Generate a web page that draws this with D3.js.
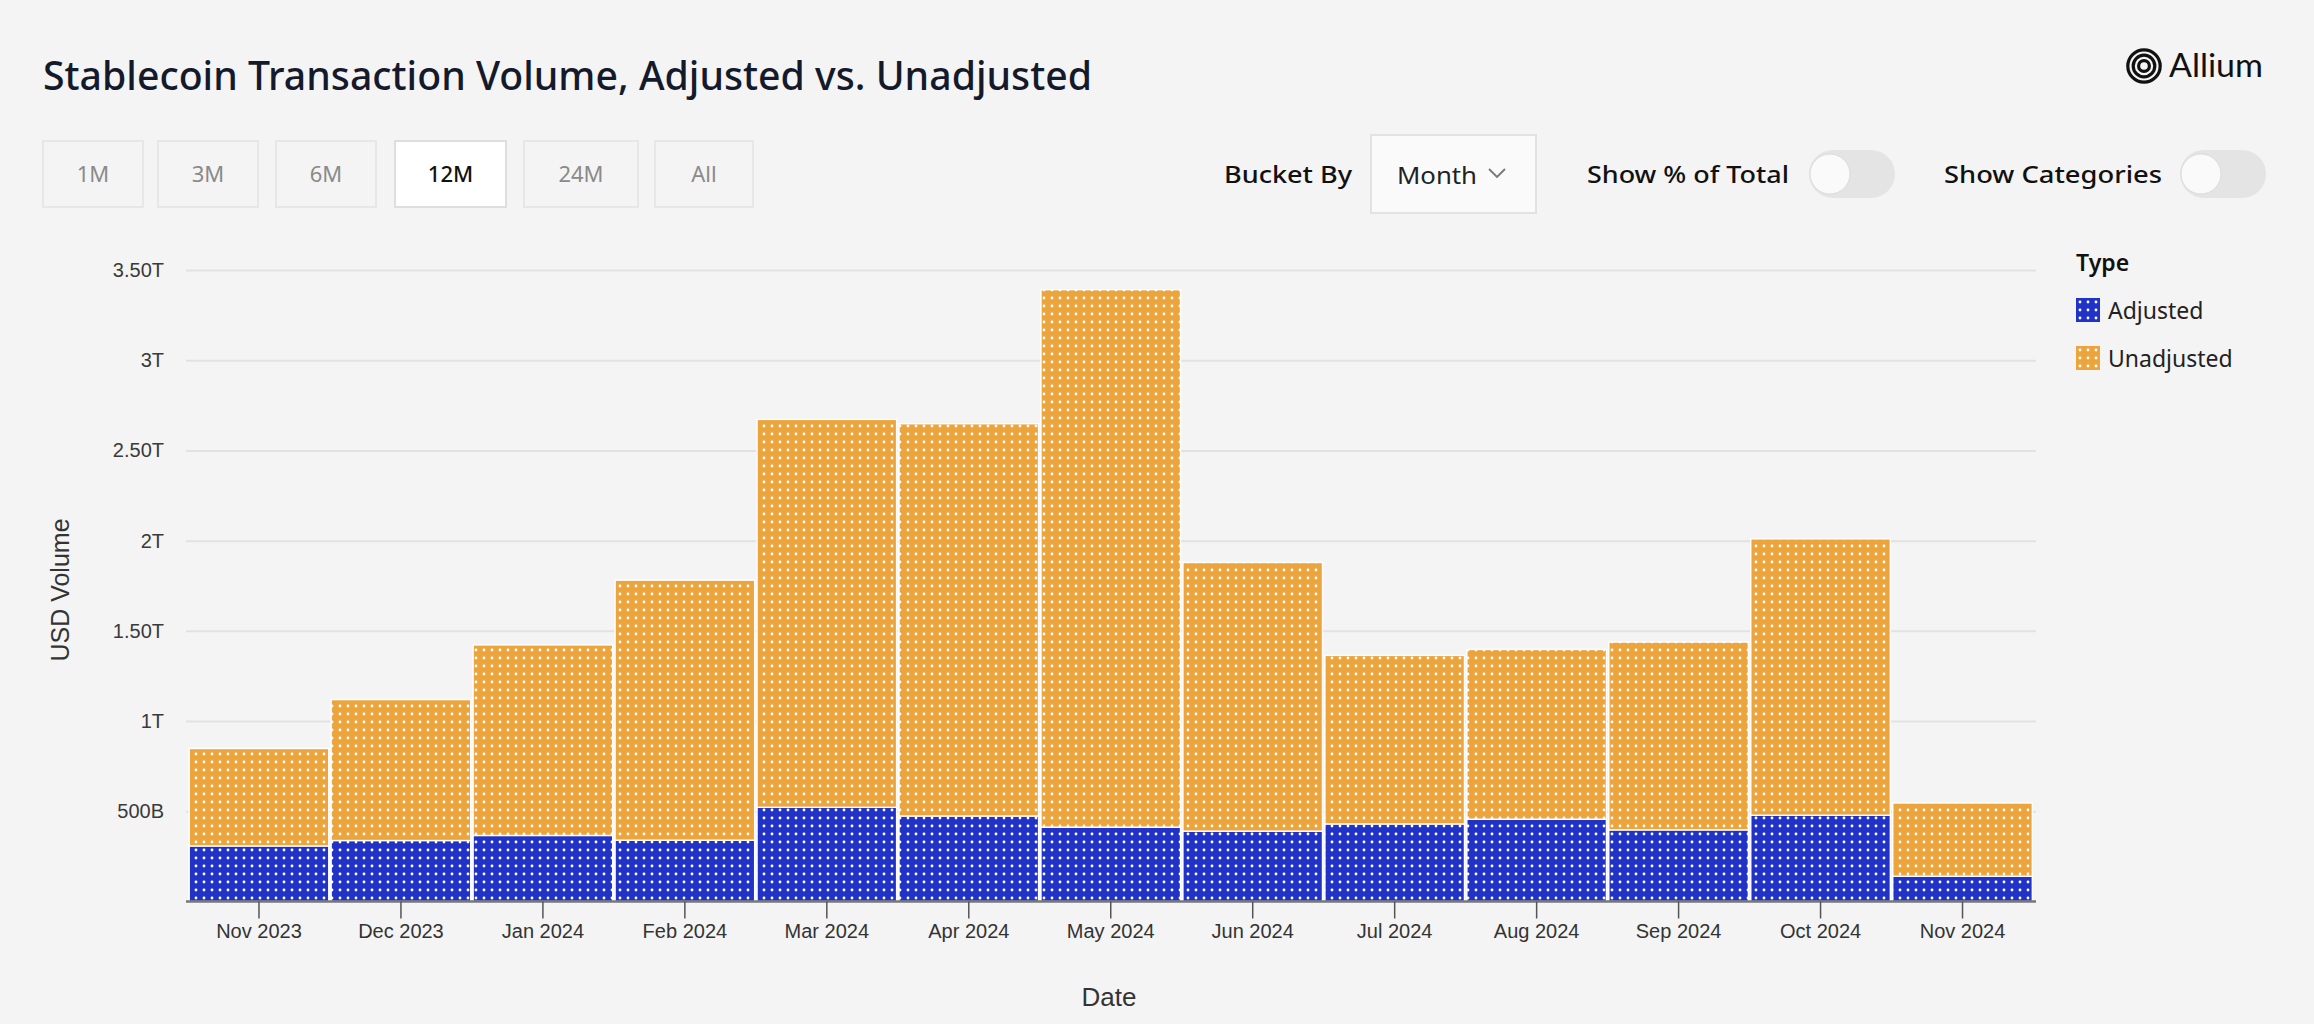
<!DOCTYPE html>
<html><head><meta charset="utf-8">
<script src="https://cdn.jsdelivr.net/npm/d3@7"></script>
<style>html,body{margin:0;padding:0;background:#f4f4f4;} svg{display:block}</style>
</head><body>
<svg id="c" width="2314" height="1024"></svg>
<script>
// ---------- DATA ----------
const months = ["Nov 2023","Dec 2023","Jan 2024","Feb 2024","Mar 2024","Apr 2024","May 2024","Jun 2024","Jul 2024","Aug 2024","Sep 2024","Oct 2024","Nov 2024"];
// USD billions
const adjusted   = [308, 338, 366, 340, 522, 474, 412, 390, 430, 456, 397, 478, 140];
const unadjusted = [540, 781, 1056, 1441, 2150, 2174, 2979, 1489, 934, 941, 1041, 1532, 406];
const seriesNames = ["Adjusted", "Unadjusted"];
const seriesColors = ["#2132c6", "#eca43c"];
const yTickValues = [500, 1000, 1500, 2000, 2500, 3000, 3500];
const yTickLabels = ["500B", "1T", "1.50T", "2T", "2.50T", "3T", "3.50T"];
const rangeButtons = ["1M", "3M", "6M", "12M", "24M", "All"];
const selectedRange = "12M";
const titleText = "Stablecoin Transaction Volume, Adjusted vs. Unadjusted";

// ---------- HELPERS ----------
const svg = d3.select("#c");
const UI = "'Noto Sans', 'Open Sans', sans-serif";
const AX = "'Liberation Sans', Arial, sans-serif";
function fit(sel, w) {
  const n = sel.node();
  const cur = n.getComputedTextLength();
  if (Math.abs(cur - w) > 1) sel.attr("textLength", w).attr("lengthAdjust", "spacingAndGlyphs");
  return sel;
}

svg.append("rect").attr("width", 2314).attr("height", 1024).attr("fill", "#f4f4f4");

// patterns
const defs = svg.append("defs");
function makePattern(id, color, ox, oy) {
  const p = defs.append("pattern").attr("id", id).attr("patternUnits", "userSpaceOnUse")
    .attr("x", ox).attr("y", oy).attr("width", 8).attr("height", 8);
  p.append("rect").attr("width", 8).attr("height", 8).attr("fill", color);
  p.append("circle").attr("cx", 4).attr("cy", 4).attr("r", 1.4).attr("fill", "#ffffff");
}
seriesNames.forEach((s, i) => {
  makePattern("pat" + i, seriesColors[i], 0, -2);
  makePattern("leg" + i, seriesColors[i], 2076, 298 + i * 48);
});

// ---------- HEADER ----------
fit(svg.append("text").attr("x", 43).attr("y", 90).attr("font-family", UI).attr("font-weight", 500)
  .attr("font-size", 39).attr("fill", "#141a2c").text(titleText), 1049);

// Allium logo
const logo = svg.append("g");
[16.2, 10.8, 5.4].forEach(r => logo.append("circle").attr("cx", 2144).attr("cy", 66).attr("r", r)
  .attr("fill", "none").attr("stroke", "#111").attr("stroke-width", 3.2));
fit(logo.append("text").attr("x", 2169).attr("y", 77).attr("font-family", "Lato, 'Noto Sans', sans-serif")
  .attr("font-weight", 400).attr("font-size", 32).attr("fill", "#111").text("Allium"), 94);

// range buttons
const btnX = [43, 158, 276, 395, 524, 655], btnW = [100, 100, 100, 111, 114, 98];
rangeButtons.forEach((b, i) => {
  const sel = b === selectedRange;
  svg.append("rect").attr("x", btnX[i]).attr("y", 141).attr("width", btnW[i]).attr("height", 66)
    .attr("fill", sel ? "#ffffff" : "#f4f4f4").attr("stroke", sel ? "#dedede" : "#e7e7e7").attr("stroke-width", 2);
  svg.append("text").attr("x", btnX[i] + btnW[i] / 2).attr("y", 182).attr("text-anchor", "middle")
    .attr("font-family", UI).attr("font-size", 22).attr("font-weight", sel ? 500 : 400)
    .attr("fill", sel ? "#111" : "#8a8a8a").text(b);
});

// bucket by
fit(svg.append("text").attr("x", 1224).attr("y", 183).attr("font-family", UI).attr("font-weight", 500)
  .attr("font-size", 24).attr("fill", "#111").text("Bucket By"), 128);
svg.append("rect").attr("x", 1371).attr("y", 135).attr("width", 165).attr("height", 78)
  .attr("fill", "#fafafa").attr("stroke", "#e2e2e2").attr("stroke-width", 2);
fit(svg.append("text").attr("x", 1397).attr("y", 184).attr("font-family", UI)
  .attr("font-size", 24).attr("fill", "#222").text("Month"), 80);
svg.append("path").attr("d", "M1489,169 L1497,177 L1505,169").attr("fill", "none")
  .attr("stroke", "#777").attr("stroke-width", 1.8);

// toggles
[["Show % of Total", 1587, 202, 1809], ["Show Categories", 1944, 218, 2180]].forEach(t => {
  fit(svg.append("text").attr("x", t[1]).attr("y", 183).attr("font-family", UI).attr("font-weight", 500)
    .attr("font-size", 24).attr("fill", "#111").text(t[0]), t[2]);
  svg.append("rect").attr("x", t[3]).attr("y", 150).attr("width", 86).attr("height", 48).attr("rx", 24)
    .attr("fill", "#e4e4e4");
  svg.append("circle").attr("cx", t[3] + 21).attr("cy", 174).attr("r", 20).attr("fill", "#fafafa")
    .attr("stroke", "#dcdcdc").attr("stroke-width", 1);
});

// ---------- CHART ----------
const x = d3.scaleBand().domain(months).range([188, 2033.5]).padding(0);
const y = d3.scaleLinear().domain([0, 3500]).range([901.5, 270]);

// grid + y axis
const yAxis = svg.append("g").attr("transform", "translate(186,0)")
  .call(d3.axisLeft(y).tickValues(yTickValues).tickFormat((d, i) => yTickLabels[i])
    .tickSize(-1850).tickPadding(22));
yAxis.select(".domain").remove();
yAxis.selectAll(".tick line").attr("stroke", "#e2e2e2").attr("stroke-width", 2);
yAxis.selectAll(".tick text").attr("font-family", AX).attr("font-size", 20).attr("fill", "#3a3a3a");

// bars
const rows = months.map((m, i) => ({ month: m, Adjusted: adjusted[i], Unadjusted: unadjusted[i] }));
const stacked = d3.stack().keys(seriesNames)(rows);
svg.append("g").selectAll("g").data(stacked).join("g")
  .attr("fill", (d, i) => "url(#pat" + i + ")")
  .selectAll("rect").data(d => d).join("rect")
  .attr("x", d => x(d.data.month) + 1.2)
  .attr("width", x.bandwidth() - 2.4)
  .attr("y", d => y(d[1]))
  .attr("height", d => y(d[0]) - y(d[1]))
  .attr("stroke", "#ffffff").attr("stroke-width", 1.4);

// x axis
const xAxis = svg.append("g").attr("transform", "translate(0,901.5)")
  .call(d3.axisBottom(x).tickSize(17).tickSizeOuter(0).tickPadding(5));
xAxis.select(".domain").attr("d", "M186,0H2036").attr("stroke", "#777").attr("stroke-width", 2.5);
xAxis.selectAll(".tick line").attr("stroke", "#555").attr("stroke-width", 1.5);
xAxis.selectAll(".tick text").attr("font-family", AX).attr("font-size", 20).attr("fill", "#333");

// axis titles
svg.append("text").attr("transform", "translate(69,590) rotate(-90)").attr("text-anchor", "middle")
  .attr("font-family", AX).attr("font-size", 25).attr("fill", "#333").text("USD Volume");
svg.append("text").attr("x", 1109).attr("y", 1006).attr("text-anchor", "middle")
  .attr("font-family", AX).attr("font-size", 26).attr("fill", "#333").text("Date");

// legend
svg.append("text").attr("x", 2076).attr("y", 271).attr("font-family", UI).attr("font-weight", 600)
  .attr("font-size", 23).attr("fill", "#111").text("Type");
seriesNames.forEach((s, i) => {
  svg.append("rect").attr("x", 2076).attr("y", 298 + i * 48).attr("width", 24).attr("height", 24)
    .attr("fill", "url(#leg" + i + ")");
  svg.append("text").attr("x", 2108).attr("y", 319 + i * 48).attr("font-family", UI)
    .attr("font-size", 23).attr("fill", "#222").text(s);
});
</script>
</body></html>
